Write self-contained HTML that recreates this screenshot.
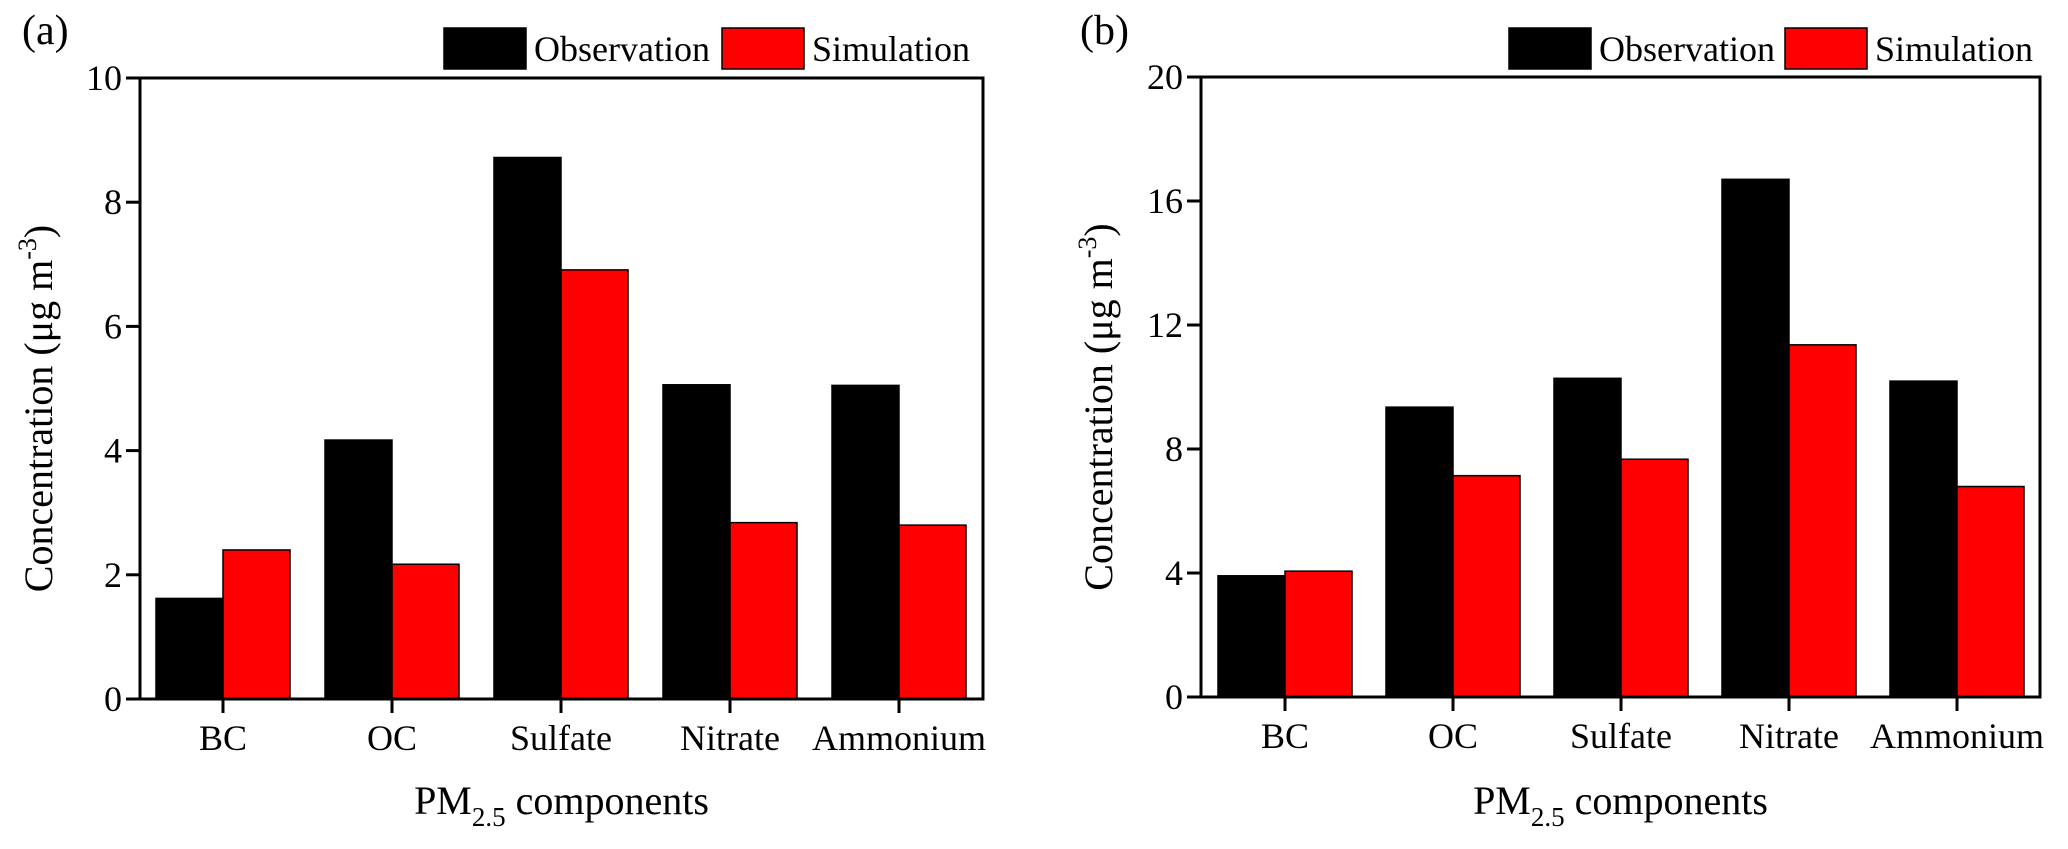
<!DOCTYPE html>
<html><head><meta charset="utf-8"><style>
body{margin:0;background:#fff}
svg{display:block;font-family:"Liberation Serif",serif}
</style></head><body>
<svg id="chart" width="2068" height="849" viewBox="0 0 2068 849" xmlns="http://www.w3.org/2000/svg"></svg>
<script>
const categories = ["BC","OC","Sulfate","Nitrate","Ammonium"];
const obsA = [1.62, 4.17, 8.72, 5.06, 5.05];
const simA = [2.40, 2.17, 6.91, 2.84, 2.80];
const ticksA = [0,2,4,6,8,10];
const obsB = [3.91, 9.35, 10.28, 16.7, 10.19];
const simB = [4.06, 7.14, 7.67, 11.36, 6.79];
const ticksB = [0,4,8,12,16,20];

const NS = "http://www.w3.org/2000/svg";
const svg = document.getElementById("chart");
function mk(tag, attrs, parent, text){
  const e = document.createElementNS(NS, tag);
  for (const k in attrs) e.setAttribute(k, attrs[k]);
  if (text !== undefined) e.textContent = text;
  (parent||svg).appendChild(e);
  return e;
}

function panel(cfg){
  const g = mk("g", {});
  
  
  const x0=cfg.left, x1=cfg.right, y0=cfg.bottom, y1=cfg.top;
  const ymax = cfg.ticks[cfg.ticks.length-1];
  const yS = v => y0 - (v/ymax)*(y0-y1);
  const xC = i => cfg.first + i*cfg.step;
  const bw = 67;
  categories.forEach((c,i)=>{
    const o = mk("rect",{x:xC(i)-bw,y:yS(cfg.obs[i]),width:bw,height:y0-yS(cfg.obs[i]),fill:"#000",stroke:"#000","stroke-width":1.5},g);
    
    
    const s = mk("rect",{x:xC(i),y:yS(cfg.sim[i]),width:bw,height:y0-yS(cfg.sim[i]),fill:"#ff0000",stroke:"#000","stroke-width":1.5},g);
    
    
  });
  const fr = mk("rect",{x:x0,y:y1,width:x1-x0,height:y0-y1,fill:"none",stroke:"#000","stroke-width":3},g);
  
  
  cfg.ticks.forEach(t=>{
    const y=yS(t);
    const l = mk("line",{x1:x0-14,x2:x0,y1:y,y2:y,stroke:"#000","stroke-width":3},g);
    
    
    const tx = mk("text",{x:x0-18,y:y+12,"font-size":36,"text-anchor":"end"},g,String(t));
    
    
  });
  categories.forEach((c,i)=>{
    const l = mk("line",{x1:xC(i),x2:xC(i),y1:y0,y2:y0+14,stroke:"#000","stroke-width":3},g);
    
    
    const tx = mk("text",{x:xC(i),y:y0+51,"font-size":36,"text-anchor":"middle"},g,c);
    
    
  });
  const yt = mk("text",{x:0,y:0,"font-size":40,"text-anchor":"middle",transform:`translate(${cfg.ytx},${(y0+y1)/2+20}) rotate(-90)`},g);
  
  
  yt.appendChild(document.createTextNode("Concentration (μg m"));
  mk("tspan",{dy:-16,"font-size":26},yt,"-3");
  mk("tspan",{dy:16},yt,")");
  const xt = mk("text",{x:(x0+x1)/2,y:814,"font-size":40,"text-anchor":"middle"},g);
  
  
  xt.appendChild(document.createTextNode("PM"));
  mk("tspan",{dy:12,"font-size":27},xt,"2.5");
  mk("tspan",{dy:-12}, xt," components");
  const pl = mk("text",{x:cfg.labx,y:44,"font-size":42},g,cfg.label);
  
  
  const lg = mk("g",{},g);
  
  
  const b1 = mk("rect",{x:cfg.leg[0],y:28,width:82,height:41,fill:"#000",stroke:"#000","stroke-width":1.5},lg);
  
  
  const t1 = mk("text",{x:cfg.leg[0]+90,y:61,"font-size":36},lg,"Observation");
  
  
  const b2 = mk("rect",{x:cfg.leg[1],y:28,width:82,height:41,fill:"#ff0000",stroke:"#000","stroke-width":1.5},lg);
  
  
  const t2 = mk("text",{x:cfg.leg[1]+90,y:61,"font-size":36},lg,"Simulation");
  
  
}

panel({name:"panel-a",left:140,right:983,top:78,bottom:699,first:223,step:169,obs:obsA,sim:simA,ticks:ticksA,ytx:52,labx:22,label:"(a)",leg:[444,722]});
panel({name:"panel-b",left:1201,right:2040,top:77,bottom:697,first:1285,step:168,obs:obsB,sim:simB,ticks:ticksB,ytx:1112,labx:1080,label:"(b)",leg:[1509,1785]});
</script>
</body></html>
